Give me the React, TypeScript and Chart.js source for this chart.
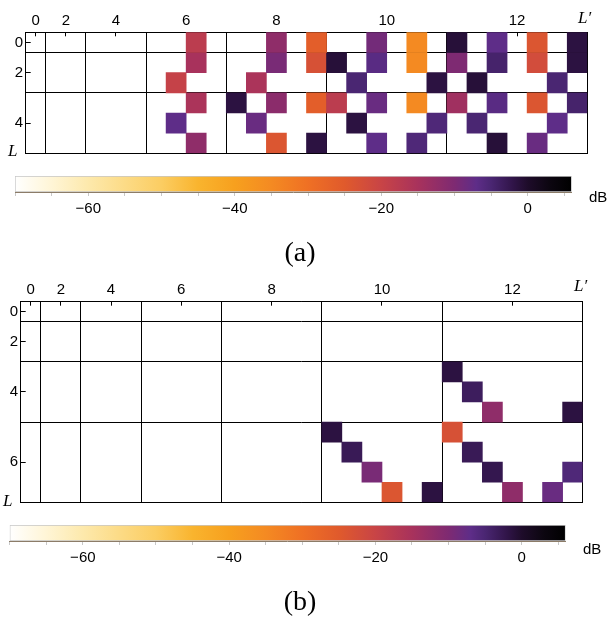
import React, { useEffect, useRef } from 'react';
import { Chart, registerables } from 'chart.js';
Chart.register(...registerables);

const W = 609;

// L' blocks (columns): block k holds k columns
const xBlockSizes = [1, 2, 3, 4, 5, 6, 7];
const xTickLabels = ['0', '2', '4', '6', '8', '10', '12'];
// L blocks (rows)
const yBlockSizesA = [1, 2, 3];
const yTickLabelsA = ['0', '2', '4'];
const yBlockSizesB = [1, 2, 3, 4];
const yTickLabelsB = ['0', '2', '4', '6'];

// panel (a) cells: row, column, value in dB
const aCellRow = [
  0, 0, 0, 0, 0, 0, 0, 0, 0,
  1, 1, 1, 1, 1, 1, 1, 1, 1, 1,
  2, 2, 2, 2, 2, 2,
  3, 3, 3, 3, 3, 3, 3, 3, 3, 3, 3,
  4, 4, 4, 4, 4, 4,
  5, 5, 5, 5, 5, 5, 5,
];
const aCellCol = [
  8, 12, 14, 17, 19, 21, 23, 25, 27,
  8, 12, 14, 15, 17, 19, 21, 23, 25, 27,
  7, 11, 16, 20, 22, 26,
  8, 10, 12, 14, 15, 17, 19, 21, 23, 25, 27,
  7, 11, 16, 20, 22, 26,
  8, 12, 14, 17, 19, 23, 25,
];
const aCellDb = [
  -18, -12, -26, -9, -35, -1, -7, -24, -1.5,
  -15, -9.5, -23, -1, -6.5, -35, -10, -4.5, -22, -1.5,
  -19.5, -15.5, -5, -1.5, -1, -5,
  -15.5, -1.5, -11.5, -26, -18, -8, -35, -14, -6.5, -24, -4.5,
  -7, -8, -1.5, -5.5, -5, -7,
  -12, -24, -1.5, -7, -5.5, -1, -8,
];

// panel (b) cells
const bCellRow = [3, 4, 5, 5, 6, 6, 7, 7, 8, 8, 8, 9, 9, 9, 9];
const bCellCol = [21, 22, 23, 27, 15, 21, 16, 22, 17, 23, 27, 18, 20, 24, 26];
const bCellDb = [-1.5, -3.5, -12, -1.5, -1.5, -23, -3, -3, -9.5, -2.5, -5.5, -24, -1.5, -12, -8];

// colour scale
const cbMin = -70;
const cbMax = 6;
const cbTickValues = [-70, -65, -60, -55, -50, -45, -40, -35, -30, -25, -20, -15, -10, -5, 0, 5];
const cbLabelValues = [-60, -40, -20, 0];
const cmapDb = [-70, -65, -60, -55, -50, -45, -40, -35, -30, -25, -20, -15, -10, -7, -5, -2, 0, 3, 6];
const cmapHex = [
  '#ffffff', '#fff5d6', '#fde9ac', '#fcdb86', '#fbcd62', '#f9b42e', '#f7a01e', '#f48a22',
  '#ef7024', '#e05a2c', '#c84446', '#a8325c', '#7e2a72', '#5e2d88', '#4a2672', '#301448',
  '#1e0c2a', '#0c0610', '#000000',
];

const tickFont = { family: '"Liberation Sans", Arial, sans-serif', size: 15 };

function hexToRgb(h: string) {
  const n = parseInt(h.slice(1), 16);
  return [(n >> 16) & 255, (n >> 8) & 255, n & 255];
}
function dbColor(v: number) {
  const x = Math.max(cmapDb[0], Math.min(cmapDb[cmapDb.length - 1], v));
  let i = 0;
  while (i < cmapDb.length - 2 && x > cmapDb[i + 1]) i++;
  const t = (x - cmapDb[i]) / (cmapDb[i + 1] - cmapDb[i]);
  const a = hexToRgb(cmapHex[i]);
  const b = hexToRgb(cmapHex[i + 1]);
  const c = a.map((av, k) => Math.round(av + (b[k] - av) * t));
  return `rgb(${c[0]},${c[1]},${c[2]})`;
}
function bounds(sizes: number[]) {
  const out = [0];
  sizes.forEach((s) => out.push(out[out.length - 1] + s));
  return out;
}
function centers(sizes: number[]) {
  const b = bounds(sizes);
  return sizes.map((s, i) => b[i] + s / 2);
}
function fmtDb(v: number) {
  return v < 0 ? '\u2212' + Math.abs(v) : String(v);
}
function noPad(s: any) {
  s.paddingTop = 0; s.paddingBottom = 0; s.paddingLeft = 0; s.paddingRight = 0;
}

type Area = { l: number; t: number; r: number; b: number };

function heatConfig(p: {
  h: number; area: Area; yBlocks: number[]; yLabels: string[];
  rows: number[]; cols: number[]; vals: number[]; xPad: number; yPad: number;
}): any {
  const xB = bounds(xBlockSizes);
  const xC = centers(xBlockSizes);
  const yB = bounds(p.yBlocks);
  const yC = centers(p.yBlocks);
  const nCols = xB[xB.length - 1];
  const nRows = yB[yB.length - 1];
  const labels = Array.from({ length: nCols }, (_, i) => String(i));
  const datasets: any[] = [];
  for (let r = 0; r < nRows; r++) {
    const data: any[] = new Array(nCols).fill(null);
    const bg: string[] = new Array(nCols).fill('rgba(0,0,0,0)');
    p.rows.forEach((rr, i) => {
      if (rr === r) {
        data[p.cols[i]] = [r, r + 1];
        bg[p.cols[i]] = dbColor(p.vals[i]);
      }
    });
    datasets.push({
      data, backgroundColor: bg, borderWidth: 0, xAxisID: 'x', yAxisID: 'y',
      grouped: false, barPercentage: 1, categoryPercentage: 1,
    });
  }
  return {
    type: 'bar',
    data: { labels, datasets },
    options: {
      responsive: false,
      maintainAspectRatio: false,
      animation: false,
      layout: { padding: { left: 0, top: 0, right: W - p.area.r, bottom: p.h - p.area.b } },
      plugins: { legend: { display: false }, tooltip: { enabled: false } },
      scales: {
        x: { type: 'category', display: false, offset: true },
        y: { type: 'linear', display: false, reverse: true, min: 0, max: nRows, offset: false },
        xTop: {
          type: 'linear', position: 'top', min: 0, max: nCols, offset: false, z: 2,
          afterBuildTicks: (s: any) => { s.ticks = xC.map((v) => ({ value: v })); },
          ticks: {
            autoSkip: false, maxRotation: 0, color: '#000', font: tickFont, padding: p.xPad,
            callback: (_v: any, i: number) => xTickLabels[i],
          },
          grid: { offset: false, drawOnChartArea: false, drawTicks: true, tickLength: -4, color: '#000', lineWidth: 1 },
          border: { display: true, color: '#000', width: 1 },
          afterFit: (s: any) => { s.height = p.area.t; noPad(s); },
        },
        xGrid: {
          type: 'linear', position: 'bottom', min: 0, max: nCols, offset: false, z: 1,
          afterBuildTicks: (s: any) => { s.ticks = xB.map((v) => ({ value: v })); },
          ticks: { display: false },
          grid: { offset: false, drawTicks: false, color: '#000', lineWidth: 1 },
          border: { display: true, color: '#000', width: 1 },
          afterFit: (s: any) => { s.height = 0; noPad(s); },
        },
        yLab: {
          type: 'linear', position: 'left', reverse: true, min: 0, max: nRows, offset: false, z: 2,
          afterBuildTicks: (s: any) => { s.ticks = yC.map((v) => ({ value: v })); },
          ticks: {
            autoSkip: false, color: '#000', font: tickFont, padding: p.yPad,
            callback: (_v: any, i: number) => p.yLabels[i],
          },
          grid: { offset: false, drawOnChartArea: false, drawTicks: true, tickLength: -5, color: '#000', lineWidth: 1 },
          border: { display: true, color: '#000', width: 1 },
          afterFit: (s: any) => { s.width = p.area.l; noPad(s); },
        },
        yGrid: {
          type: 'linear', position: 'right', reverse: true, min: 0, max: nRows, offset: false, z: 1,
          afterBuildTicks: (s: any) => { s.ticks = yB.map((v) => ({ value: v })); },
          ticks: { display: false },
          grid: { offset: false, drawTicks: false, color: '#000', lineWidth: 1 },
          border: { display: true, color: '#000', width: 1 },
          afterFit: (s: any) => { s.width = 0; noPad(s); },
        },
      },
    },
  };
}

function colorbarConfig(p: { h: number; area: Area; pad: number }): any {
  return {
    type: 'bar',
    data: {
      labels: ['dB'],
      datasets: [{
        data: [[cbMin, cbMax]],
        backgroundColor: (ctx: any) => {
          const chart = ctx.chart;
          const sx = chart.scales && chart.scales.x;
          if (!sx || !chart.chartArea) return '#888';
          const g = chart.ctx.createLinearGradient(sx.getPixelForValue(cbMin), 0, sx.getPixelForValue(cbMax), 0);
          cmapDb.forEach((d, i) => g.addColorStop((d - cbMin) / (cbMax - cbMin), cmapHex[i]));
          return g;
        },
        borderWidth: 1,
        borderColor: '#c6c6c6',
        borderSkipped: false,
        barPercentage: 1,
        categoryPercentage: 1,
      }],
    },
    options: {
      indexAxis: 'y',
      responsive: false,
      maintainAspectRatio: false,
      animation: false,
      layout: { padding: { left: p.area.l, top: p.area.t, right: W - p.area.r, bottom: 0 } },
      plugins: { legend: { display: false }, tooltip: { enabled: false } },
      scales: {
        y: { type: 'category', display: false },
        x: {
          type: 'linear', position: 'bottom', min: cbMin, max: cbMax, offset: false,
          afterBuildTicks: (s: any) => { s.ticks = cbTickValues.map((v) => ({ value: v })); },
          ticks: {
            autoSkip: false, maxRotation: 0, color: '#000', font: tickFont, padding: p.pad,
            callback: (v: number) => (cbLabelValues.includes(v) ? fmtDb(v) : ''),
          },
          grid: { offset: false, drawOnChartArea: false, drawTicks: true, tickLength: 4, color: '#c8c8c8', lineWidth: 1 },
          border: { display: true, color: '#8c7c68', width: 1 },
          afterFit: (s: any) => { s.height = p.h - p.area.b; noPad(s); },
        },
      },
    },
  };
}

const serifItalic: React.CSSProperties = {
  position: 'absolute', fontFamily: '"Liberation Serif", "DejaVu Serif", serif',
  fontStyle: 'italic', fontSize: 17, lineHeight: '17px', color: '#000', whiteSpace: 'nowrap',
};
const sansText: React.CSSProperties = {
  position: 'absolute', fontFamily: '"Liberation Sans", Arial, sans-serif',
  fontSize: 15, lineHeight: '15px', color: '#000', whiteSpace: 'nowrap',
};
const caption: React.CSSProperties = {
  position: 'absolute', left: 0, width: 600, textAlign: 'center',
  fontFamily: '"Liberation Serif", "DejaVu Serif", serif', fontSize: 28, lineHeight: '28px', color: '#000',
};

export default function App() {
  const heatA = useRef<HTMLCanvasElement>(null);
  const heatB = useRef<HTMLCanvasElement>(null);
  const cbA = useRef<HTMLCanvasElement>(null);
  const cbB = useRef<HTMLCanvasElement>(null);

  useEffect(() => {
    const charts: Chart[] = [];
    charts.push(new Chart(heatA.current as HTMLCanvasElement, heatConfig({
      h: 165, area: { l: 25.7, t: 32.3, r: 587.3, b: 153.3 }, yBlocks: yBlockSizesA, yLabels: yTickLabelsA,
      rows: aCellRow, cols: aCellCol, vals: aCellDb, xPad: 6, yPad: 7.5,
    })));
    charts.push(new Chart(heatB.current as HTMLCanvasElement, heatConfig({
      h: 245, area: { l: 20.7, t: 33.7, r: 582.7, b: 234.3 }, yBlocks: yBlockSizesB, yLabels: yTickLabelsB,
      rows: bCellRow, cols: bCellCol, vals: bCellDb, xPad: 7, yPad: 7.5,
    })));
    charts.push(new Chart(cbA.current as HTMLCanvasElement, colorbarConfig({
      h: 70, area: { l: 15, t: 16, r: 571.7, b: 32 }, pad: 4,
    })));
    charts.push(new Chart(cbB.current as HTMLCanvasElement, colorbarConfig({
      h: 70, area: { l: 9.7, t: 15, r: 565.6, b: 31 }, pad: 4,
    })));
    return () => charts.forEach((c) => c.destroy());
  }, []);

  const cv = (top: number, h: number): React.CSSProperties => ({
    position: 'absolute', left: 0, top, width: W, height: h, display: 'block',
  });

  return (
    <div style={{ position: 'fixed', left: 0, top: 0, width: W, height: 619, background: '#fff', overflow: 'hidden' }}>
      <canvas ref={heatA} width={W} height={165} style={cv(0, 165)} />
      <canvas ref={cbA} width={W} height={70} style={cv(160, 70)} />
      <canvas ref={heatB} width={W} height={245} style={cv(268, 245)} />
      <canvas ref={cbB} width={W} height={70} style={cv(510, 70)} />
      <div style={{ ...serifItalic, left: 578, top: 9 }}>L{'\u2032'}</div>
      <div style={{ ...serifItalic, left: 8, top: 142 }}>L</div>
      <div style={{ ...serifItalic, left: 574, top: 277 }}>L{'\u2032'}</div>
      <div style={{ ...serifItalic, left: 3, top: 492 }}>L</div>
      <div style={{ ...sansText, left: 589, top: 189 }}>dB</div>
      <div style={{ ...sansText, left: 583, top: 541 }}>dB</div>
      <div style={{ ...caption, top: 238 }}>(a)</div>
      <div style={{ ...caption, top: 587 }}>(b)</div>
    </div>
  );
}
